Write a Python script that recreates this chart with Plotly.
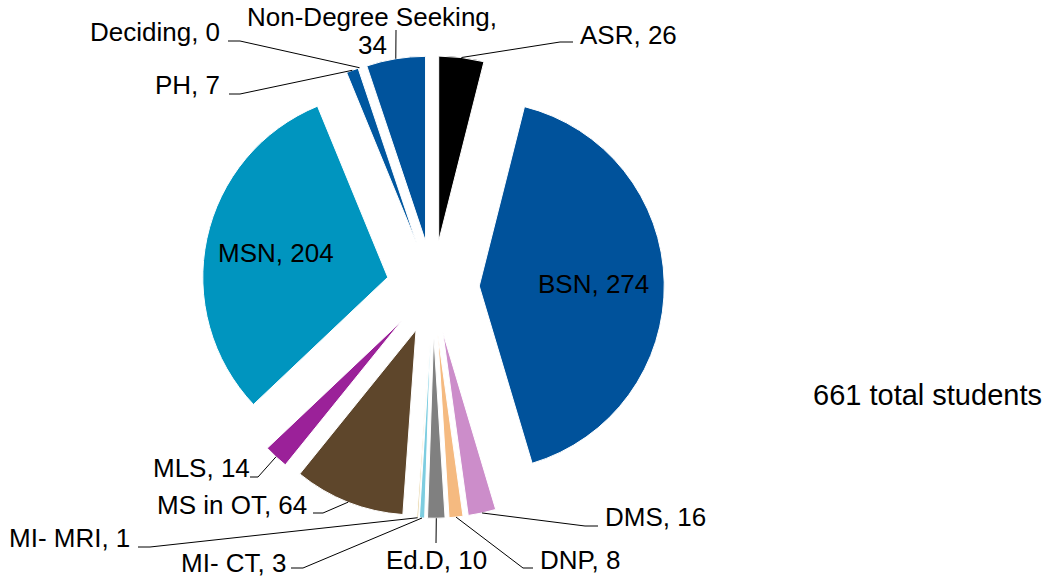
import math
import plotly.graph_objects as go

W, H = 1055, 581

programs = ["ASR", "BSN", "DMS", "DNP", "Ed.D", "MI- CT", "MI- MRI",
            "MS in OT", "MLS", "MSN", "PH", "Deciding", "Non-Degree Seeking"]
students = [26, 274, 16, 8, 10, 3, 1, 64, 14, 204, 7, 0, 34]
colors = ["#000000", "#00529B", "#CC8DCA", "#F5BA80", "#808080", "#7DCDE0",
          "#E6D3A3", "#5E462B", "#9B2199", "#0095BF", "#0057A0", "#0057A0",
          "#00539C"]

total = sum(students)

# pie geometry in pixels
CX, CY, R, PULL = 433, 287, 185, 0.25
box = 2 * R * (1 + PULL)


def px(x):
    return x / W


def py(y):
    return 1 - y / H


# where each label sits and how its leader line bends (pixels)
label_pos = {
    "ASR": ((578, 35), "left", [(560, 42), (573, 42)]),
    "DMS": ((603, 517), "left", [(585, 526), (598, 526)]),
    "DNP": ((538, 560), "left", [(523, 568), (533, 568)]),
    "Ed.D": ((436, 560), "center", [(436, 543)]),
    "MI- CT": ((288, 563), "right", [(303, 568), (291, 568)]),
    "MI- MRI": ((132, 538), "right", [(150, 547), (138, 547)]),
    "MS in OT": ((309, 505), "right", [(323, 513), (313, 513)]),
    "MLS": ((252, 468), "right", [(258, 477), (250, 477)]),
    "PH": ((222, 85), "right", [(240, 94), (229, 94)]),
    "Deciding": ((222, 32), "right", [(240, 41), (228, 41)]),
    "Non-Degree Seeking": ((372, 17), "center", [(396, 30)]),
}
inside = ["BSN", "MSN"]

font = dict(family="Arial, Liberation Sans, sans-serif", size=26, color="#000000")

fig = go.Figure(go.Pie(
    labels=programs,
    values=students,
    sort=False,
    direction="clockwise",
    rotation=0,
    pull=PULL,
    textinfo="none",
    hoverinfo="label+value",
    marker=dict(colors=colors, line=dict(color="#ffffff", width=1)),
    domain=dict(x=[px(CX - box / 2), px(CX + box / 2)],
                y=[py(CY + box / 2), py(CY - box / 2)]),
    showlegend=False,
))

annotations = []
shapes = []
cum = 0
for name, v in zip(programs, students):
    mid = math.radians((cum + v / 2) / total * 360)
    cum += v
    if name in inside:
        d = 161
        annotations.append(dict(
            x=px(CX + d * math.sin(mid)), y=py(CY - d * math.cos(mid)),
            xref="paper", yref="paper", text=f"{name}, {v}",
            showarrow=False, font=font, xanchor="center", yanchor="middle"))
        continue
    (tx, ty), align, bend = label_pos[name]
    ex = CX + R * (1 + PULL) * math.sin(mid)
    ey = CY - R * (1 + PULL) * math.cos(mid)
    pts = [(ex, ey)] + bend
    path = "M " + " L ".join(f"{px(a)},{py(b)}" for a, b in pts)
    shapes.append(dict(type="path", path=path, xref="paper", yref="paper",
                       line=dict(color="#000000", width=1)))
    if name == "Non-Degree Seeking":
        lines = [f"{name},", f"{v}"]
        for k, t in enumerate(lines):
            annotations.append(dict(
                x=px(tx), y=py(ty + 28 * k), xref="paper", yref="paper",
                text=t, showarrow=False, font=font,
                xanchor="center", yanchor="middle"))
    else:
        annotations.append(dict(
            x=px(tx), y=py(ty), xref="paper", yref="paper",
            text=f"{name}, {v}", showarrow=False, font=font,
            xanchor=align, yanchor="middle"))

annotations.append(dict(
    x=px(927), y=py(395), xref="paper", yref="paper",
    text=f"{total} total students", showarrow=False,
    font=dict(family="Arial, Liberation Sans, sans-serif", size=29, color="#000000"),
    xanchor="center", yanchor="middle"))

fig.update_layout(
    width=W, height=H,
    margin=dict(l=0, r=0, t=0, b=0),
    paper_bgcolor="#ffffff",
    plot_bgcolor="#ffffff",
    annotations=annotations,
    shapes=shapes,
)

fig.write_html("out.html", config={"displayModeBar": False},
               post_script="document.body.style.margin='0';")
